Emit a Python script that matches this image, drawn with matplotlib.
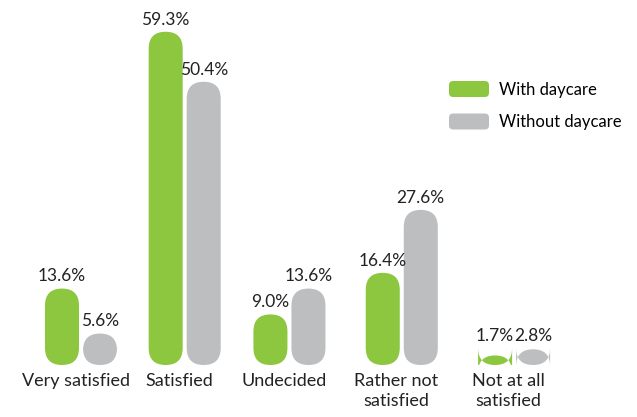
import numpy as np
from matplotlib import pyplot as plt
from matplotlib.patches import FancyBboxPatch, Patch
from matplotlib.legend_handler import HandlerPatch

plt.rcParams['font.family'] = ['Lato', 'DejaVu Sans']

categories = ['Very satisfied', 'Satisfied', 'Undecided', 'Rather not\nsatisfied', 'Not at all\nsatisfied']
with_daycare = [13.6, 59.3, 9.0, 16.4, 1.7]
without_daycare = [5.6, 50.4, 13.6, 27.6, 2.8]
series_names = ['With daycare', 'Without daycare']

green = '#8dc63f'
gray = '#bcbec0'

# layout (group centres, slightly uneven like the original)
pos = np.array([0, 0.96, 1.93, 2.97, 4.01])
bw = 0.315
off = 0.176

fig = plt.figure(figsize=(6.37, 4.17), dpi=100)
ax = fig.add_axes([0, 52 / 417, 1, 365 / 417])
ax.set_xlim(-0.75, 5.148)
ax.set_ylim(0, 64.95)
for s in ax.spines.values():
    s.set_visible(False)
ax.set_yticks([])

# data units per pixel -> aspect for rounded caps
p0 = ax.transData.transform((0, 0))
p1 = ax.transData.transform((1, 1))
xpp = 1 / (p1[0] - p0[0])
ypp = 1 / (p1[1] - p0[1])
aspect = ypp / xpp
r = bw / 2
r_y = r * aspect


def rounded_bars(xs, vals, color):
    for x, v in zip(xs, vals):
        p = FancyBboxPatch((x - bw / 2, 0), bw, v,
                           boxstyle='round,pad=0,rounding_size=%f' % r,
                           mutation_aspect=aspect, fc=color, ec='none')
        ax.add_patch(p)
        ax.annotate('%.1f%%' % v, (x, max(v, r_y)), xytext=(0, 3),
                    textcoords='offset points', ha='center', va='bottom',
                    fontsize=12.5, color='#222222')


rounded_bars(pos - off, with_daycare, green)
rounded_bars(pos + off, without_daycare, gray)

ax.set_xticks(pos - 0.05)
ax.set_xticklabels(categories, fontsize=13, color='#222222', linespacing=1.3)
ax.tick_params(axis='x', length=0, pad=6)


class RoundHandler(HandlerPatch):
    def create_artists(self, legend, orig_handle, xdescent, ydescent,
                       width, height, fontsize, trans):
        p = FancyBboxPatch((-xdescent, -ydescent), width, height,
                           boxstyle='round,pad=0,rounding_size=3',
                           fc=orig_handle.get_facecolor(), ec='none',
                           transform=trans)
        return [p]


handles = [Patch(color=green), Patch(color=gray)]
ax.legend(handles, series_names, loc='upper left',
          bbox_to_anchor=(444 / 637, 1 - 76 / 417), bbox_transform=fig.transFigure,
          frameon=False, fontsize=12, handlelength=2.4, handleheight=1.1,
          handletextpad=0.6, labelspacing=0.95, borderpad=0.3, borderaxespad=0,
          handler_map={Patch: RoundHandler()})

fig.savefig('out.png', dpi=100)
